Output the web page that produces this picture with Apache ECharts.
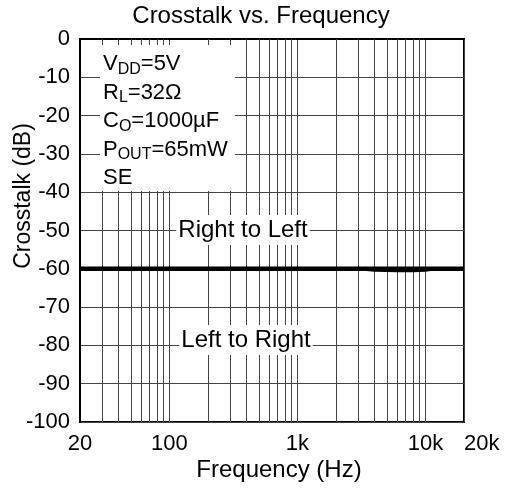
<!DOCTYPE html>
<html>
<head>
<meta charset="utf-8">
<script src="https://cdn.jsdelivr.net/npm/echarts@6/dist/echarts.min.js"></script>
<style>
  html, body { margin: 0; padding: 0; background: #fff; }
  #main { width: 506px; height: 491px; }
</style>
</head>
<body>
<div id="main"></div>
<script>
// data
var freqs = [20, 50, 100, 200, 500, 1000, 2000, 3000, 4000, 6000, 8000, 10000, 12000, 20000];
var rightToLeft = [-60, -60, -60, -60, -60, -60, -60, -60, -60, -60, -60, -60, -60, -60];
var leftToRight = [-60, -60, -60, -60, -60, -60, -60, -60, -60.4, -60.5, -60.5, -60.4, -60, -60];
var minorFreqs = [30, 40, 50, 60, 70, 80, 90, 200, 300, 400, 500, 600, 700, 800, 900,
  2000, 3000, 4000, 5000, 6000, 7000, 8000, 9000];
var yTicks = { min: -100, max: 0, step: 10 };

var font = 'Liberation Sans, Arial, sans-serif';
var gridColor = '#444';

function pairs(xs, ys) {
  var out = [];
  for (var i = 0; i < xs.length; i++) out.push([xs[i], ys[i]]);
  return out;
}

function freqLabel(v) {
  v = Math.round(v);
  if (v >= 1000) return (v / 1000) + 'k';
  return '' + v;
}

var chart = echarts.init(document.getElementById('main'), null, { renderer: 'canvas' });

var option = {
  animation: false,
  backgroundColor: '#fff',
  textStyle: { fontFamily: font, color: '#000' },
  grid: {
    left: 80, right: 42, top: 39, bottom: 69,
    show: true, borderColor: '#000', borderWidth: 2, backgroundColor: '#fff'
  },
  xAxis: {
    type: 'log',
    logBase: 10,
    min: 20,
    max: 20000,
    axisLine: { show: true, lineStyle: { color: '#000', width: 2 } },
    axisTick: { show: false },
    axisLabel: {
      fontFamily: font, fontSize: 22, color: '#000', margin: 11,
      showMinLabel: true, showMaxLabel: true,
      alignMaxLabel: 'left',
      formatter: freqLabel
    },
    splitLine: { show: true, lineStyle: { color: gridColor, width: 1 } }
  },
  yAxis: {
    type: 'value',
    min: yTicks.min,
    max: yTicks.max,
    interval: yTicks.step,
    axisLine: { show: true, lineStyle: { color: '#000', width: 2 } },
    axisTick: { show: false },
    axisLabel: { fontFamily: font, fontSize: 22, color: '#000', margin: 10 },
    splitLine: { show: true, lineStyle: { color: gridColor, width: 1 } }
  },
  series: [
    {
      // minor log grid lines
      type: 'line',
      data: [],
      z: 1,
      markLine: {
        silent: true,
        symbol: 'none',
        label: { show: false },
        lineStyle: { color: gridColor, width: 1, type: 'solid' },
        emphasis: { disabled: true },
        data: minorFreqs.map(function (f) { return { xAxis: f }; })
      }
    },
    {
      name: 'Right to Left',
      type: 'line',
      z: 5,
      showSymbol: false,
      lineStyle: { color: '#000', width: 4.5 },
      data: pairs(freqs, rightToLeft)
    },
    {
      name: 'Left to Right',
      type: 'line',
      z: 5,
      showSymbol: false,
      lineStyle: { color: '#000', width: 3 },
      data: pairs(freqs, leftToRight)
    }
  ],
  graphic: [
    {
      type: 'text', z: 100, x: 261, y: 16,
      style: { text: 'Crosstalk vs. Frequency', font: '24px ' + font, fill: '#000',
        textAlign: 'center', textVerticalAlign: 'middle' }
    },
    {
      type: 'text', z: 100, x: 279, y: 470,
      style: { text: 'Frequency (Hz)', font: '24px ' + font, fill: '#000',
        textAlign: 'center', textVerticalAlign: 'middle' }
    },
    {
      type: 'text', z: 100, x: 24, y: 196, rotation: Math.PI / 2,
      style: { text: 'Crosstalk (dB)', font: '23px ' + font, fill: '#000',
        textAlign: 'center', textVerticalAlign: 'middle' }
    },
    // white box behind the conditions
    {
      type: 'rect', z: 90,
      shape: { x: 100, y: 45, width: 135, height: 146 },
      style: { fill: '#fff' }
    },
    {
      type: 'text', z: 100, x: 103, y: 50,
      style: {
        text: '{n|V}{s|DD}{n|=5V}\n{n|R}{s|L}{n|=32Ω}\n{n|C}{s|O}{n|=1000µF}\n{n|P}{s|OUT}{n|=65mW}\n{n|SE}',
        textVerticalAlign: 'top',
        rich: {
          n: { fontFamily: font, fontSize: 22, color: '#000', lineHeight: 28.5 },
          s: { fontFamily: font, fontSize: 16, color: '#000', lineHeight: 28.5, padding: [10, 0, 0, 0] }
        }
      }
    },
    {
      type: 'text', z: 100, x: 243, y: 230,
      style: { text: 'Right to Left', font: '24px ' + font, fill: '#000',
        textAlign: 'center', textVerticalAlign: 'middle',
        backgroundColor: '#fff', padding: [3, 2, 3, 2] }
    },
    {
      type: 'text', z: 100, x: 246, y: 340,
      style: { text: 'Left to Right', font: '24px ' + font, fill: '#000',
        textAlign: 'center', textVerticalAlign: 'middle',
        backgroundColor: '#fff', padding: [3, 2, 3, 2] }
    }
  ]
};

chart.setOption(option);
</script>
</body>
</html>
